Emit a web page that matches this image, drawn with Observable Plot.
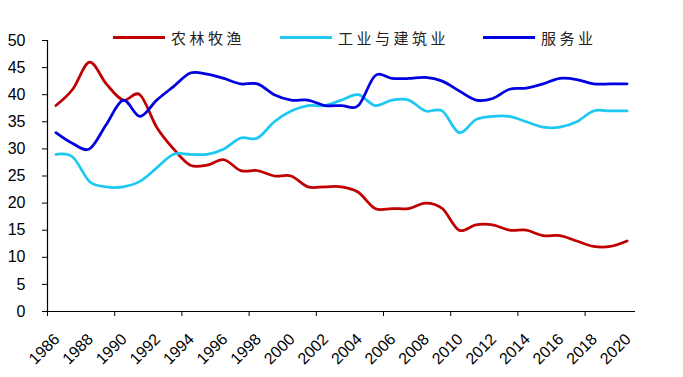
<!DOCTYPE html>
<html>
<head>
<meta charset="utf-8">
<script src="https://cdn.jsdelivr.net/npm/d3@7"></script>
<script src="https://cdn.jsdelivr.net/npm/@observablehq/plot@0.6"></script>
<style>
  html, body { margin: 0; padding: 0; background: #fff; }
  #wrap { position: relative; width: 683px; height: 377px; }
  .leg { position: absolute; top: 28px; height: 19px; display: flex; align-items: center;
         font-family: "Noto Sans CJK SC", sans-serif; font-size: 15px; letter-spacing: 3.5px; color: #222; }
  .leg .sw { width: 52px; height: 3px; margin-right: 6px; }
</style>
</head>
<body>
<div id="wrap"></div>
<script>
// ---- data ----
const years = [1986,1987,1988,1989,1990,1991,1992,1993,1994,1995,1996,1997,1998,1999,2000,
               2001,2002,2003,2004,2005,2006,2007,2008,2009,2010,2011,2012,2013,2014,2015,
               2016,2017,2018,2019,2020];
const seriesNames = ["农林牧渔", "工业与建筑业", "服务业"];
const seriesColors = ["#C00000", "#1EC8F0", "#0000E0"];
const agriculture = [38,41,46,42,39,40,34,30,27,27,28,26,26,25,25,23,23,23,22,19,19,19,20,19,15,16,16,15,15,14,14,13,12,12,13];
const industry    = [29,28.5,24,23,23,24,26.5,29,29,29,30,32,32,35,37,38,38,39,40,38,39,39,37,37,33,35.4,36,36,35,34,34,35,37,37,37];
const services    = [33,31,30,34.5,39,36,39,41.5,44,43.8,43,42,42,40,39,39,38,38,38,43.5,43,43,43.2,42.5,40.7,39,39.3,41,41.2,42,43,42.8,42,42,42];
const yTicks = [0,5,10,15,20,25,30,35,40,45,50];
const xTickLabels = [1986,1988,1990,1992,1994,1996,1998,2000,2002,2004,2006,2008,2010,2012,2014,2016,2018,2020];
const xTickMarks = [1985.5,1989.5,1993.5,1997.5,2001.5,2005.5,2009.5,2013.5,2017.5];

const seriesValues = [agriculture, industry, services];
const rows = seriesNames.flatMap((name, s) =>
  years.map((yr, i) => ({series: name, year: yr, value: seriesValues[s][i]})));

const chart = Plot.plot({
  width: 683,
  height: 377,
  marginTop: 40,
  marginBottom: 66,
  marginLeft: 47,
  marginRight: 48,
  style: {fontFamily: "'Liberation Sans', Arial, sans-serif", fontSize: "16px", color: "#000", background: "#fff"},
  x: {domain: [1985.5, 2020.5]},
  y: {domain: [0, 50]},
  color: {domain: seriesNames, range: seriesColors},
  marks: [
    Plot.axisY({ticks: yTicks, tickSize: 5, tickPadding: 17, label: null, tickFormat: d => String(d), stroke: "#000"}),
    Plot.axisX({ticks: xTickMarks, tickSize: 5, label: null, tickFormat: () => "", stroke: "#000"}),
    Plot.text(xTickLabels, {x: d => d, frameAnchor: "bottom", dy: 25, dx: 1, rotate: -45,
      textAnchor: "end", lineAnchor: "middle", fontSize: 16, text: d => String(d), fill: "#000"}),
    Plot.ruleX([1985.5], {stroke: "#000", strokeWidth: 1.2}),
    Plot.ruleY([0], {stroke: "#000", strokeWidth: 1.2}),
    Plot.line(rows, {x: "year", y: "value", stroke: "series", curve: "cardinal", strokeWidth: 2.75})
  ]
});

const wrap = document.getElementById("wrap");
wrap.appendChild(chart);

const legendLeft = [113, 280, 483];
seriesNames.forEach((name, i) => {
  const item = document.createElement("div");
  item.className = "leg";
  item.style.left = legendLeft[i] + "px";
  const sw = document.createElement("span");
  sw.className = "sw";
  sw.style.background = seriesColors[i];
  const t = document.createElement("span");
  t.textContent = name;
  item.appendChild(sw);
  item.appendChild(t);
  wrap.appendChild(item);
});
</script>
</body>
</html>
